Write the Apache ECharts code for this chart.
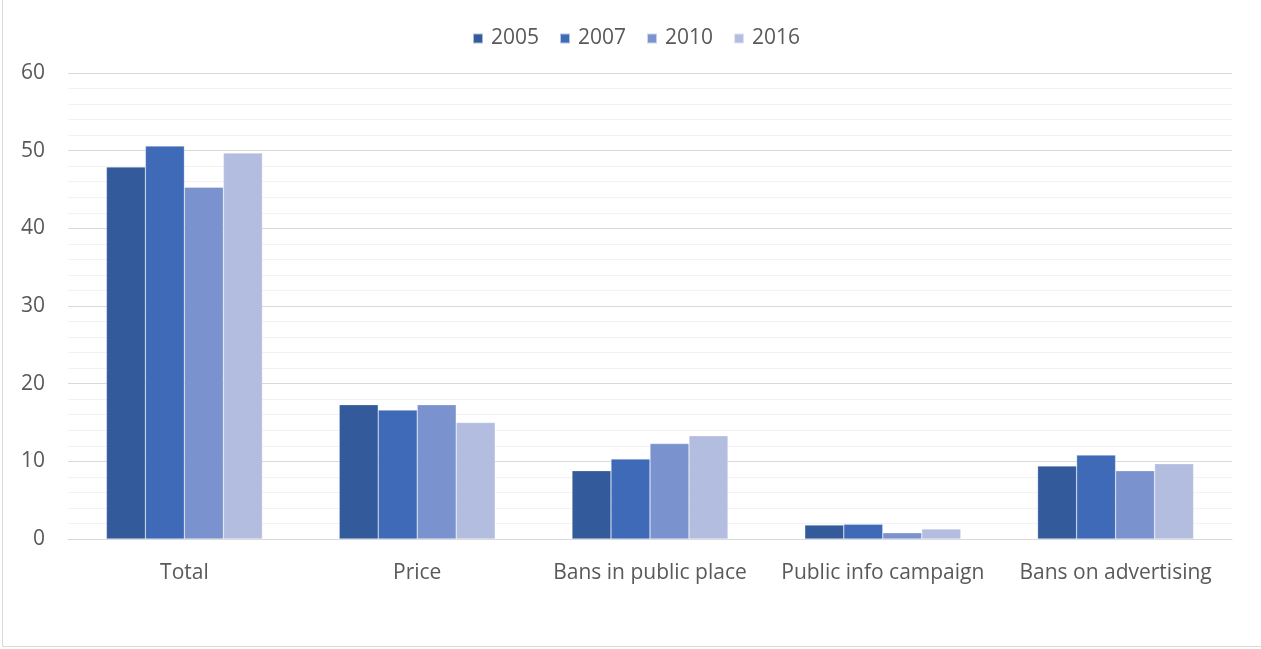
<!DOCTYPE html>
<html>
<head>
<meta charset="utf-8">
<script src="https://cdn.jsdelivr.net/npm/echarts@6/dist/echarts.min.js"></script>
<style>
  html, body { margin: 0; padding: 0; background: #fff; }
  #chart { width: 1261px; height: 649px; }
</style>
</head>
<body>
<div id="chart"></div>
<script>
// Tobacco control policy scores by measure and year
const categories = ['Total', 'Price', 'Bans in public place', 'Public info campaign', 'Bans on advertising'];
const years = ['2005', '2007', '2010', '2016'];
const values2005 = [47.9, 17.3, 8.8, 1.8, 9.4];
const values2007 = [50.6, 16.6, 10.3, 1.9, 10.8];
const values2010 = [45.3, 17.3, 12.3, 0.8, 8.8];
const values2016 = [49.7, 15.0, 13.3, 1.3, 9.7];
const yTicks = [0, 10, 20, 30, 40, 50, 60];

const seriesValues = [values2005, values2007, values2010, values2016];
const colors = ['#335A9A', '#3E6AB8', '#7A93CF', '#B2BDDF'];
const fontFamily = '"Open Sans", sans-serif';
const textColor = '#595959';

const chart = echarts.init(document.getElementById('chart'), null, { renderer: 'canvas' });

chart.setOption({
  animation: false,
  color: colors,
  textStyle: { fontFamily: fontFamily },
  graphic: [{
    type: 'rect',
    silent: true,
    shape: { x: 2.5, y: -5, width: 1300, height: 651.5 },
    style: { fill: 'none', stroke: '#d9d9d9', lineWidth: 1 }
  }],
  legend: {
    top: 28,
    left: 472,
    padding: 0,
    itemWidth: 10,
    itemHeight: 10,
    itemGap: 20,
    icon: 'rect',
    textStyle: { color: textColor, fontSize: 21, fontFamily: fontFamily, padding: [0, 0, 0, 3] },
    data: years
  },
  grid: { left: 68, right: 29, top: 73, bottom: 110, containLabel: false },
  xAxis: {
    type: 'category',
    data: categories,
    axisLine: { show: true, lineStyle: { color: '#d9d9d9', width: 1 } },
    axisTick: { show: false },
    axisLabel: { color: textColor, fontSize: 21, margin: 24, interval: 0, fontFamily: fontFamily }
  },
  yAxis: {
    type: 'value',
    min: yTicks[0],
    max: yTicks[yTicks.length - 1],
    interval: 10,
    axisLine: { show: false },
    axisTick: { show: false },
    axisLabel: { color: textColor, fontSize: 21, margin: 23, fontFamily: fontFamily },
    splitLine: { show: true, lineStyle: { color: '#d9d9d9', width: 1 } },
    minorTick: { show: false, splitNumber: 5 },
    minorSplitLine: { show: true, lineStyle: { color: '#f2f2f2', width: 1 } }
  },
  series: years.map((y, i) => ({
    name: y,
    type: 'bar',
    data: seriesValues[i],
    barGap: '0%',
    barCategoryGap: '33%',
    itemStyle: { color: colors[i], borderColor: 'rgba(255,255,255,0.6)', borderWidth: 0.5 }
  }))
});
</script>
</body>
</html>
